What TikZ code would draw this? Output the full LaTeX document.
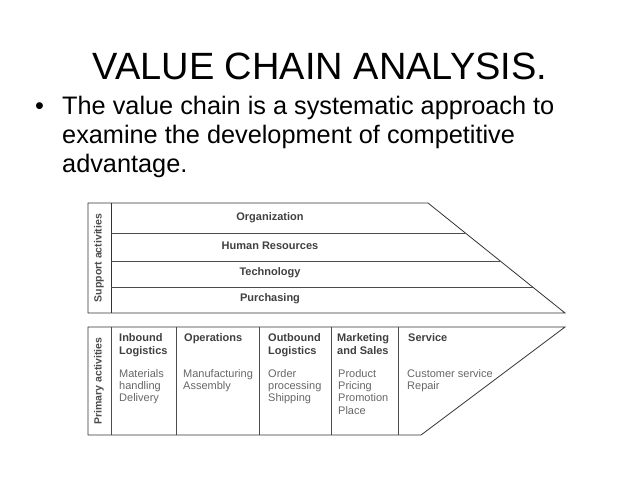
\documentclass[tikz,border=0pt]{standalone}
\usepackage{fontspec}
\setmainfont{Liberation Sans}
\begin{document}
\begin{tikzpicture}[x=1pt,y=-1pt,
  box/.style={draw=black!80,line width=0.8pt},
  hdr/.style={font=\fontsize{11}{13.5}\selectfont\bfseries,text=black!75,anchor=north west,align=left,inner sep=0pt},
  sub/.style={font=\fontsize{11}{12.3}\selectfont,text=black!60,anchor=north west,align=left,inner sep=0pt},
  sup/.style={font=\fontsize{11}{13}\selectfont\bfseries,text=black!75},
  side/.style={font=\fontsize{10.5}{12}\selectfont\bfseries,text=black!70,rotate=90},
  txt/.style={font=\fontsize{25.3}{29}\selectfont,anchor=base west,inner sep=0pt}]
\useasboundingbox (0,0) rectangle (638,479);
\node (title) at (320,66) {\fontsize{38}{42}\selectfont VALUE CHAIN ANALYSIS.};
\node[txt] (b) at (35,114) {•};
\node[txt] (l1) at (62,114) {The value chain is a systematic approach to};
\node[txt] (l2) at (62,143) {examine the development of competitive};
\node[txt] (l3) at (62,172) {advantage.};
% support
\draw[box] (88,203) -- (428,203) -- (565,313) -- (88,313) -- cycle;
\draw[box] (111,203) -- (111,313);
\foreach \yy in {233,261,287}{\draw[draw=black!70,line width=0.5pt] (111,\yy) -- ({428+(\yy-203)*137/110},\yy);}
\node[side] (sa) at (99,258) {Support activities};
\node[sup] (o) at (270,218) {Organization};
\node[sup] (h) at (270,246) {Human Resources};
\node[sup] (t) at (270,273) {Technology};
\node[sup] (p) at (270,299) {Purchasing};
% primary
\draw[box] (88,327) -- (565,327) -- (421,435) -- (88,435) -- cycle;
\foreach \xx in {111,176,259,331,398}{\draw[draw=black!70,line width=0.6pt] (\xx,327) -- (\xx,435);}
\node[side] (pa) at (99,381) {Primary activities};
\node[hdr] (h1) at (119,333) {Inbound\\Logistics};
\node[hdr] (h2) at (184,333) {Operations};
\node[hdr] (h3) at (268,333) {Outbound\\Logistics};
\node[hdr] (h4) at (337,333) {Marketing\\and Sales};
\node[hdr] (h5) at (408,333) {Service};
\node[sub] (s1) at (119,369) {Materials\\handling\\Delivery};
\node[sub] (s2) at (183,369) {Manufacturing\\Assembly};
\node[sub] (s3) at (268,369) {Order\\processing\\Shipping};
\node[sub] (s4) at (338,369) {Product\\Pricing\\Promotion\\Place};
\node[sub] (s5) at (407,369) {Customer service\\Repair};
\end{tikzpicture}
\end{document}
